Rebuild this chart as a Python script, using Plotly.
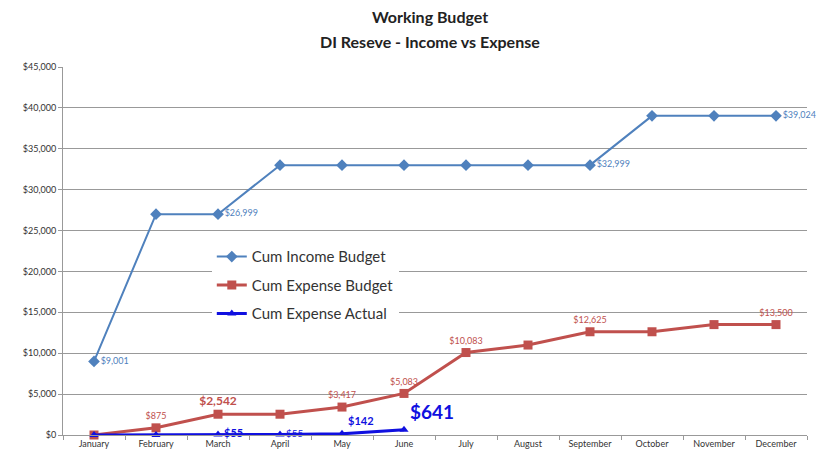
import plotly.graph_objects as go

months = ["January", "February", "March", "April", "May", "June", "July",
          "August", "September", "October", "November", "December"]
income_budget = [9001, 26999, 26999, 32999, 32999, 32999, 32999, 32999, 32999, 39024, 39024, 39024]
expense_budget = [0, 875, 2542, 2542, 3417, 5083, 10083, 11000, 12625, 12625, 13500, 13500]
expense_actual = [0, 0, 55, 55, 142, 641]

income_labels = ["$9,001", "", "$26,999", "", "", "", "", "", "$32,999", "", "", "$39,024"]
expense_labels = ["", "$875", "<b>$2,542</b>", "", "$3,417", "$5,083", "$10,083", "", "$12,625", "", "", "$13,500"]
actual_labels = ["", "", "<b>$55</b>", "$55", "<b>$142</b>", "<b>$641</b>"]

INC = "#4F81BD"
EXP = "#C0504D"
ACT = "#1010E0"

fig = go.Figure()
fig.add_trace(go.Scatter(
    x=months, y=income_budget, name="Cum Income Budget", legendgroup="a",
    mode="lines+markers+text", cliponaxis=False,
    line=dict(color=INC, width=2), marker=dict(symbol="diamond", size=9, color=INC),
    text=income_labels, textposition="middle right",
    textfont=dict(size=9, color=INC, family="Lato"),
))
fig.add_trace(go.Scatter(
    x=months, y=expense_budget, name="Cum Expense Budget", legendgroup="b",
    mode="lines+markers+text", cliponaxis=False,
    line=dict(color=EXP, width=3), marker=dict(symbol="square", size=9, color=EXP),
    text=expense_labels, textposition="top center",
    textfont=dict(size=[9, 9, 12, 9, 9, 9, 9, 9, 9, 9, 9, 9], color=EXP, family="Lato"),
))
fig.add_trace(go.Scatter(
    x=months[:len(expense_actual)], y=expense_actual, name="Cum Expense Actual", legendgroup="c",
    mode="lines+markers+text", cliponaxis=False,
    line=dict(color=ACT, width=3), marker=dict(symbol="triangle-up", size=8, color=ACT),
    text=actual_labels,
    textposition=["middle right", "middle right", "middle right", "middle right", "top right", "top right"],
    textfont=dict(size=[10, 10, 11, 10, 11, 19], color=ACT, family="Lato"),
))

plot_h = 461 - 67 - 26
fig.update_layout(
    width=822, height=461,
    margin=dict(l=63, r=15, t=67, b=26),
    paper_bgcolor="white", plot_bgcolor="white",
    font=dict(family="Lato"),
    showlegend=True,
    legend=dict(
        x=0.2, y=0.529, xanchor="left", yanchor="top",
        bgcolor="white", borderwidth=0,
        font=dict(size=15, color="#333", family="Lato"),
        itemwidth=30, tracegroupgap=6,
    ),
    xaxis=dict(
        range=[-0.5, 11.5], showgrid=False, showline=True, linecolor="#999", linewidth=1,
        ticks="outside", ticklen=4, tickcolor="#999", tickson="boundaries",
        tickfont=dict(size=9, color="#333"),
    ),
    yaxis=dict(
        range=[0, 45000], dtick=5000, tickformat="$,.0f",
        showgrid=True, gridcolor="#999", gridwidth=1,
        showline=True, linecolor="#999", linewidth=1,
        ticks="outside", ticklen=4, tickcolor="#999",
        tickfont=dict(size=9, color="#333"), zeroline=False,
    ),
)
for txt, ypix in [("<b>Working Budget</b>", 17), ("<b>DI Reseve - Income vs Expense</b>", 41)]:
    fig.add_annotation(text=txt, xref="paper", yref="paper", x=(430 - 63) / (822 - 63 - 15),
                       y=(435 - ypix) / plot_h, showarrow=False, xanchor="center", yanchor="middle",
                       font=dict(family="Lato", size=16, color="#222"))

fig.write_html("out.html")
